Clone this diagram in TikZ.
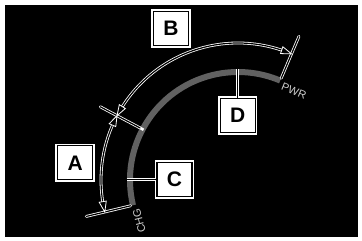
\documentclass[tikz,border=0pt]{standalone}
\usepackage{fontspec}
\setmainfont{Liberation Sans}
\usetikzlibrary{calc}
\begin{document}
\begin{tikzpicture}[x=1pt,y=1pt,
  tube/.style={draw=white, double=black, line width=0.8pt, double distance=1.2pt, line cap=round},
  lbl/.style={draw=white, double=black, line width=1.7pt, double distance=1.1pt, fill=white,
    minimum width=35pt, minimum height=34pt, inner sep=0pt,
    font=\fontsize{21}{21}\selectfont\bfseries},
  tipst/.style={draw=white, fill=black, line width=0.8pt, line join=miter},
  scl/.style={text=black!20, font=\fontsize{11}{11}\selectfont, inner sep=0pt},
  band/.style={line width=6pt, draw=black!62}]
\useasboundingbox (0,0) rectangle (362,241);
\fill[white] (0,0) rectangle (362,241);
\fill[black] (5,4) rectangle (358,236);
\coordinate (O) at (238,61);
\begin{scope}[shift={(O)}]
  % gray scale band
  \draw[band] (193.5:108) arc[start angle=193.5, end angle=67, radius=108];
  % extension lines
  \coordinate (e1a) at (193.5:110.5); \coordinate (e1b) at (193.5:156);
  \coordinate (e2a) at (152:111);   \coordinate (e2b) at (152:156);
  \coordinate (e3a) at (67:110.5);   \coordinate (e3b) at (67:156);
  \draw[white, line width=2.6pt] (152:107) -- (152:112);
  \draw[tube] (e1a) -- (e1b);
  \draw[tube] (e2a) -- (e2b);
  \draw[tube] (e3a) -- (e3b);
  % dimension arcs
  \draw[tube] (190:137) arc[start angle=190, end angle=155.5, radius=137];
  \draw[tube] (148.5:137) arc[start angle=148.5, end angle=70.5, radius=137];
  % arrow tips
  \foreach \t/\s in {67/1, 152/-1, 152/1, 193.5/-1}{
    \draw[tipst] (\t:137) -- ({\t+\s*4.4}:140.6) -- ({\t+\s*4.4}:133.4) -- cycle;
  }
  \coordinate (cC) at (180:111);
  \coordinate (cD) at (90:111);
  \draw[black!30, line width=1.2pt] (180:105) -- (180:111);
  \draw[white, line width=0.9pt] (90:105) -- (90:111);
  \node[scl, rotate=104] (chg) at (202.5:107) {CHG};
  \node[scl, rotate=-22] (pwr) at (57.8:105) {PWR};
\end{scope}
\node[lbl] (A) at (75.2,78.2) {A};
\node[lbl] (B) at (171,212.5) {B};
\node[lbl] (C) at (174.5,61.3) {C};
\node[lbl] (D) at (237.7,125.5) {D};
\draw[tube, line cap=butt] (C.west) -- (C.west -| cC);
\draw[tube, line cap=butt] (D.north) -- (D.north |- cD);
\end{tikzpicture}
\end{document}
